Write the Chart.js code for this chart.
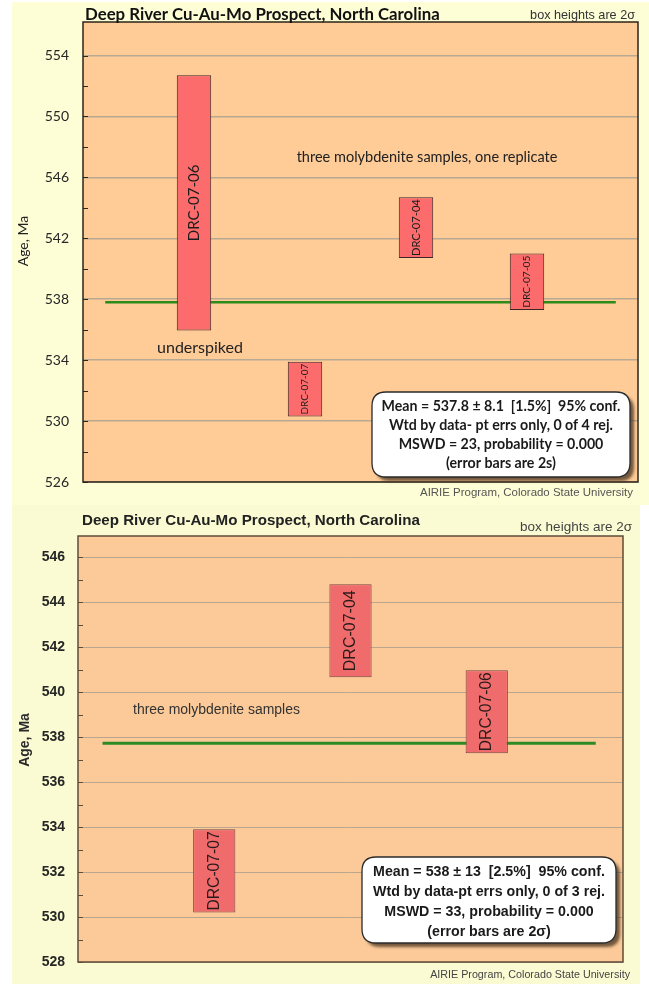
<!DOCTYPE html>
<html>
  <head>
    <script src="https://cdn.jsdelivr.net/npm/chart.js@4"></script>
    <style>
      body {
        margin: 0;
        background: #ffffff;
      }
      .panel {
        position: absolute;
      }
      #topPanel {
        left: 12px;
        top: 2px;
        width: 637px;
        height: 503px;
        background: #fdfdd6;
      }
      #botPanel {
        left: 12px;
        top: 505px;
        width: 628px;
        height: 479px;
        background: #fbfbd3;
      }
    </style>
  </head>
  <body>
    <div class="panel" id="topPanel"><canvas id="topChart"></canvas></div>
    <div class="panel" id="botPanel"><canvas id="botChart"></canvas></div>

    <script>
      // ---- upper plot: four analyses incl. the underspiked one ----
      var topSamples = ['DRC-07-06', 'DRC-07-07', 'DRC-07-04', 'DRC-07-05'];
      var topLow = [535.95, 530.3, 540.7, 537.3];
      var topHigh = [552.7, 533.9, 544.7, 541.0];
      var topMean = 537.8;
      var topMeanSpan = [0.2, 4.8];
      var topTicks = [526, 530, 534, 538, 542, 546, 550, 554];
      var topMinorTicks = [528, 532, 536, 540, 544, 548, 552];
      var topStats = [
        'Mean = 537.8 \u00b1 8.1  [1.5%]  95% conf.',
        'Wtd by data- pt errs only, 0 of 4 rej.',
        'MSWD = 23, probability = 0.000',
        '(error bars are 2s)'
      ];

      // ---- lower plot: three molybdenite samples ----
      var botSamples = ['DRC-07-07', 'DRC-07-04', 'DRC-07-06'];
      var botLow = [530.2, 540.67, 537.29];
      var botHigh = [533.9, 544.8, 540.98];
      var botMean = 537.73;
      var botMeanSpan = [0.18, 3.8];
      var botTicks = [528, 530, 532, 534, 536, 538, 540, 542, 544, 546];
      var botMinorTicks = [529, 531, 533, 535, 537, 539, 541, 543, 545];
      var botStats = [
        'Mean = 538 \u00b1 13  [2.5%]  95% conf.',
        'Wtd by data-pt errs only, 0 of 3 rej.',
        'MSWD = 33, probability = 0.000',
        '(error bars are 2\u03c3)'
      ];

      var titleText = 'Deep River Cu-Au-Mo Prospect, North Carolina';
      var boxNote = 'box heights are 2\u03c3';
      var creditText = 'AIRIE Program, Colorado State University';

      // draw text scaled so that it spans a given width
      function fitText(ctx, text, x, y, weight, family, width, align, color) {
        ctx.font = weight + ' 100px ' + family;
        var size = 100 * width / ctx.measureText(text).width;
        ctx.font = weight + ' ' + size.toFixed(2) + 'px ' + family;
        ctx.textAlign = align;
        ctx.textBaseline = 'middle';
        ctx.fillStyle = color;
        ctx.fillText(text, x, y);
        return size;
      }

      function roundRect(ctx, x, y, w, h, r) {
        ctx.beginPath();
        ctx.moveTo(x + r, y);
        ctx.lineTo(x + w - r, y);
        ctx.quadraticCurveTo(x + w, y, x + w, y + r);
        ctx.lineTo(x + w, y + h - r);
        ctx.quadraticCurveTo(x + w, y + h, x + w - r, y + h);
        ctx.lineTo(x + r, y + h);
        ctx.quadraticCurveTo(x, y + h, x, y + h - r);
        ctx.lineTo(x, y + r);
        ctx.quadraticCurveTo(x, y, x + r, y);
        ctx.closePath();
      }

      var decorPlugin = {
        id: 'decor',
        beforeDraw: function(chart, args, o) {
          var a = chart.chartArea, ctx = chart.ctx;
          ctx.save();
          ctx.fillStyle = o.plotColor;
          ctx.fillRect(a.left, a.top, a.right - a.left, a.bottom - a.top);
          ctx.restore();
        },
        afterDatasetsDraw: function(chart, args, o) {
          // sample names written up the boxes
          var ctx = chart.ctx;
          var meta = chart.getDatasetMeta(0);
          ctx.save();
          meta.data.forEach(function(bar, i) {
            var name = chart.data.labels[i];
            if (!name || bar.y == null || isNaN(bar.y)) return;
            var h = Math.abs(bar.base - bar.y);
            ctx.font = o.barFont.weight + ' 100px ' + o.barFont.family;
            var size = Math.min(o.barFont.max, 100 * (h - 4) / ctx.measureText(name).width);
            ctx.font = o.barFont.weight + ' ' + size.toFixed(2) + 'px ' + o.barFont.family;
            ctx.fillStyle = o.barFont.color;
            ctx.textAlign = 'center';
            ctx.textBaseline = 'middle';
            ctx.save();
            ctx.translate(bar.x, (bar.y + bar.base) / 2);
            ctx.rotate(-Math.PI / 2);
            ctx.fillText(name, 0, 0);
            ctx.restore();
          });
          ctx.restore();
        },
        afterDraw: function(chart, args, o) {
          var a = chart.chartArea, ctx = chart.ctx, y = chart.scales.y;
          ctx.save();
          // tick marks inside the left axis
          ctx.strokeStyle = o.borderColor;
          ctx.lineWidth = 1;
          o.tickMarks.forEach(function(v) {
            var py = Math.round(y.getPixelForValue(v)) + 0.5;
            ctx.beginPath();
            ctx.moveTo(a.left, py);
            ctx.lineTo(a.left + 5, py);
            ctx.stroke();
          });
          // plot frame
          ctx.lineWidth = o.borderWidth;
          ctx.strokeRect(a.left, a.top, a.right - a.left, a.bottom - a.top);

          // axis title
          ctx.save();
          ctx.translate(o.yTitle.x, o.yTitle.y);
          ctx.rotate(-Math.PI / 2);
          ctx.font = o.yTitle.font;
          ctx.fillStyle = o.textColor;
          ctx.textAlign = 'center';
          ctx.textBaseline = 'middle';
          ctx.fillText('Age, Ma', 0, 0);
          ctx.restore();

          o.texts.forEach(function(t) {
            fitText(ctx, t.text, t.x, t.y, t.weight, t.family, t.width, t.align, t.color);
          });

          // statistics box
          var b = o.statBox;
          ctx.save();
          ctx.shadowColor = 'rgba(70, 50, 30, 0.75)';
          ctx.shadowOffsetX = 4;
          ctx.shadowOffsetY = 4;
          ctx.shadowBlur = 3;
          roundRect(ctx, b.x, b.y, b.w, b.h, 14);
          ctx.fillStyle = '#ffffff';
          ctx.fill();
          ctx.restore();
          roundRect(ctx, b.x, b.y, b.w, b.h, 14);
          ctx.strokeStyle = '#2a2a2a';
          ctx.lineWidth = 1.3;
          ctx.stroke();
          ctx.font = 'bold 100px ' + b.family;
          var size = 100 * b.textWidth / ctx.measureText(b.lines[b.widest]).width;
          ctx.font = 'bold ' + size.toFixed(2) + 'px ' + b.family;
          ctx.fillStyle = '#1a1a1a';
          ctx.textAlign = 'center';
          ctx.textBaseline = 'middle';
          b.lines.forEach(function(line, i) {
            ctx.fillText(line, b.x + b.w / 2, b.firstLine + i * b.lineGap);
          });
          ctx.restore();
        }
      };

      function buildChart(canvasId, samples, low, high, mean, meanSpan, ticks, st) {
        var labels = [''].concat(samples, ['']);
        var boxes = [null].concat(low.map(function(v, i) { return [v, high[i]]; }), [null]);
        var last = labels.length - 1;
        return new Chart(document.getElementById(canvasId), {
          type: 'bar',
          data: {
            labels: labels,
            datasets: [{
              data: boxes,
              backgroundColor: st.barFill,
              borderColor: st.barEdge,
              borderWidth: 1,
              borderSkipped: false,
              grouped: false,
              categoryPercentage: 1,
              barPercentage: 0.31,
              order: 0
            }, {
              type: 'line',
              xAxisID: 'x2',
              data: meanSpan.map(function(x) { return {x: x, y: mean}; }),
              borderColor: st.meanColor,
              borderWidth: st.meanWidth,
              pointRadius: 0,
              order: 1
            }]
          },
          options: {
            responsive: true,
            maintainAspectRatio: false,
            animation: false,
            events: [],
            layout: { padding: st.padding },
            plugins: {
              legend: { display: false },
              title: { display: false },
              tooltip: { enabled: false },
              decor: st.decor
            },
            scales: {
              x: { type: 'category', offset: false, display: false },
              x2: { type: 'linear', min: 0, max: last, offset: false, display: false },
              y: {
                min: st.yMin,
                max: st.yMax,
                afterBuildTicks: function(s) {
                  s.ticks = ticks.map(function(v) { return {value: v}; });
                },
                afterFit: function(s) {
                  s.width = st.axisWidth;
                  s.paddingTop = 0;
                  s.paddingBottom = 0;
                },
                border: { display: false },
                grid: { color: st.gridColor, lineWidth: st.gridWidth, drawTicks: false },
                ticks: { padding: st.tickPad, color: '#262626', font: st.tickFont }
              }
            }
          },
          plugins: [decorPlugin]
        });
      }

      buildChart('topChart', topSamples, topLow, topHigh, topMean, topMeanSpan, topTicks, {
        barFill: '#fc6c6c',
        barEdge: '#3d2626',
        meanColor: '#2d8a1c',
        meanWidth: 2.5,
        padding: { top: 20, right: 11, bottom: 23, left: 0 },
        yMin: 526,
        yMax: 556.2,
        axisWidth: 71,
        gridColor: '#b8a993',
        gridWidth: 1.5,
        tickPad: 14,
        tickFont: { family: 'Lato', size: 14 },
        decor: {
          plotColor: '#ffcb97',
          borderColor: '#2e2418',
          borderWidth: 1.5,
          tickMarks: topTicks.concat(topMinorTicks),
          textColor: '#222222',
          barFont: { family: 'Lato', weight: 'normal', max: 15, color: '#1c1c1c' },
          yTitle: { x: 11, y: 239, font: '14px Lato' },
          texts: [
            { text: titleText, x: 73, y: 13, weight: 'bold', family: 'Lato', width: 355, align: 'left', color: '#111111' },
            { text: boxNote, x: 623, y: 14, weight: 'normal', family: 'Liberation Sans', width: 105, align: 'right', color: '#333333' },
            { text: 'underspiked', x: 188, y: 346, weight: 'normal', family: 'Lato', width: 86, align: 'center', color: '#222222' },
            { text: 'three molybdenite samples, one replicate', x: 415, y: 155, weight: 'normal', family: 'Lato', width: 261, align: 'center', color: '#222222' },
            { text: creditText, x: 621, y: 491, weight: 'normal', family: 'Liberation Sans', width: 213, align: 'right', color: '#555555' }
          ],
          statBox: { x: 360, y: 390, w: 258, h: 85, family: 'Lato', lines: topStats, widest: 0, textWidth: 239, firstLine: 404, lineGap: 19 }
        }
      });

      buildChart('botChart', botSamples, botLow, botHigh, botMean, botMeanSpan, botTicks, {
        barFill: '#f06c6c',
        barEdge: '#7a4444',
        meanColor: '#2e8a22',
        meanWidth: 3,
        padding: { top: 31, right: 17, bottom: 22, left: 0 },
        yMin: 528,
        yMax: 546.95,
        axisWidth: 66,
        gridColor: '#b9a68c',
        gridWidth: 1,
        tickPad: 13,
        tickFont: { family: 'Liberation Sans', size: 14, weight: 'bold' },
        decor: {
          plotColor: '#fbca98',
          borderColor: '#5e4c3a',
          borderWidth: 1.5,
          tickMarks: botTicks.concat(botMinorTicks),
          textColor: '#2a2a2a',
          barFont: { family: 'Liberation Sans', weight: 'normal', max: 16, color: '#2a1a1a' },
          yTitle: { x: 13, y: 235, font: 'bold 14px "Liberation Sans"' },
          texts: [
            { text: titleText, x: 70, y: 16, weight: 'bold', family: 'Liberation Sans', width: 338, align: 'left', color: '#222222' },
            { text: boxNote, x: 620, y: 22, weight: 'normal', family: 'Liberation Sans', width: 112, align: 'right', color: '#444444' },
            { text: 'three molybdenite samples', x: 121, y: 205, weight: 'normal', family: 'Liberation Sans', width: 167, align: 'left', color: '#333333' },
            { text: creditText, x: 618, y: 470, weight: 'normal', family: 'Liberation Sans', width: 200, align: 'right', color: '#444444' }
          ],
          statBox: { x: 350, y: 352, w: 254, h: 86, family: 'Liberation Sans', lines: botStats, widest: 1, textWidth: 232, firstLine: 367, lineGap: 20 }
        }
      });
    </script>
  </body>
</html>
